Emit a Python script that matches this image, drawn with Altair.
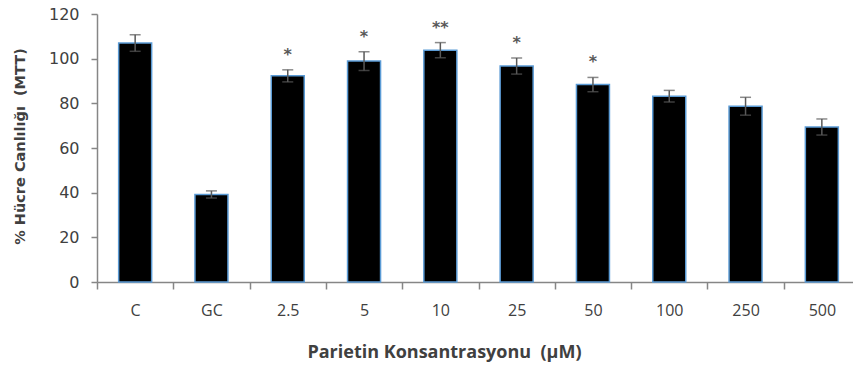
import altair as alt
import pandas as pd

# Cell viability (MTT) by parietin concentration
groups = ["C", "GC", "2.5", "5", "10", "25", "50", "100", "250", "500"]
viability = [107.0, 39.2, 92.3, 98.9, 103.8, 96.7, 88.4, 83.2, 78.7, 69.4]
sd = [3.7, 1.6, 2.7, 4.2, 3.4, 3.6, 3.2, 2.6, 4.0, 3.6]
significance = ["", "", "*", "*", "**", "*", "*", "", "", ""]

df = pd.DataFrame({
    "grup": groups,
    "canlilik": viability,
    "alt": [v - s for v, s in zip(viability, sd)],
    "ust": [v + s for v, s in zip(viability, sd)],
    "yildiz": significance,
})

AXIS_GREY = "#868686"
TEXT_GREY = "#404040"
NARROW = "Liberation Sans Narrow, Open Sans, sans-serif"
NBSP = "\u00a0"

x = alt.X(
    "grup:N",
    sort=groups,
    scale=alt.Scale(range=[0, 763], paddingInner=0, paddingOuter=0),
    axis=alt.Axis(
        title=f"Parietin Konsantrasyonu {NBSP}(µM)",
        labelAngle=0,
        labelFont=NARROW,
        labelFontSize=16,
        labelColor=TEXT_GREY,
        labelPadding=13,
        tickBand="extent",
        tickSize=7,
        tickColor=AXIS_GREY,
        domainColor=AXIS_GREY,
        domainWidth=1.5,
        tickWidth=1.5,
        titleFont=NARROW,
        titleFontSize=18,
        titleFontWeight="bold",
        titleColor=TEXT_GREY,
        titleX=347,
        titleY=70,
        titleAlign="center",
        titleBaseline="middle",
        titleAnchor="start",
    ),
)

y_scale = alt.Scale(domain=[0, 120], nice=False)

bars = alt.Chart(df).mark_bar(
    size=33, color="black", stroke="#5b9bd5", strokeWidth=1.5
).encode(
    x=x,
    y=alt.Y(
        "canlilik:Q",
        scale=y_scale,
        axis=alt.Axis(
            title=f"% Hücre Canlılığı {NBSP}(MTT)",
            values=[0, 20, 40, 60, 80, 100, 120],
            grid=False,
            labelFont="DejaVu Sans",
            labelFontSize=16,
            labelColor=TEXT_GREY,
            labelPadding=12,
            tickSize=6,
            tickColor=AXIS_GREY,
            tickWidth=1.5,
            domainColor=AXIS_GREY,
            domainWidth=1.5,
            titleFont="DejaVu Sans",
            titleFontSize=14.5,
            titleFontWeight="bold",
            titleColor=TEXT_GREY,
            titleAngle=-90,
            titleX=-77,
            titleY=132,
            titleAlign="center",
            titleBaseline="middle",
        ),
    ),
)

err_line = alt.Chart(df).mark_rule(color="#595959", strokeWidth=1.5).encode(
    x=x, y=alt.Y("alt:Q", scale=y_scale), y2="ust:Q"
)
cap_hi = alt.Chart(df).mark_tick(
    color="#595959", orient="horizontal", size=11, thickness=1.5
).encode(x=x, y=alt.Y("ust:Q", scale=y_scale))
cap_lo = alt.Chart(df).mark_tick(
    color="#595959", orient="horizontal", size=11, thickness=1.5
).encode(x=x, y=alt.Y("alt:Q", scale=y_scale))

stars = alt.Chart(df).mark_text(
    font="DejaVu Sans", fontSize=16, fontWeight="bold", color="#595959",
    baseline="middle", dy=-15
).encode(x=x, y=alt.Y("ust:Q", scale=y_scale), text="yildiz:N")

chart = (
    alt.layer(bars, err_line, cap_hi, cap_lo, stars)
    .properties(
        width=756,
        height=268,
        autosize=alt.AutoSizeParams(type="none"),
        padding={"left": 97, "top": 14, "right": 0, "bottom": 83},
        background="white",
    )
    .configure_view(stroke=None)
)

chart.save("out.html", embed_options={"renderer": "svg", "actions": False})
